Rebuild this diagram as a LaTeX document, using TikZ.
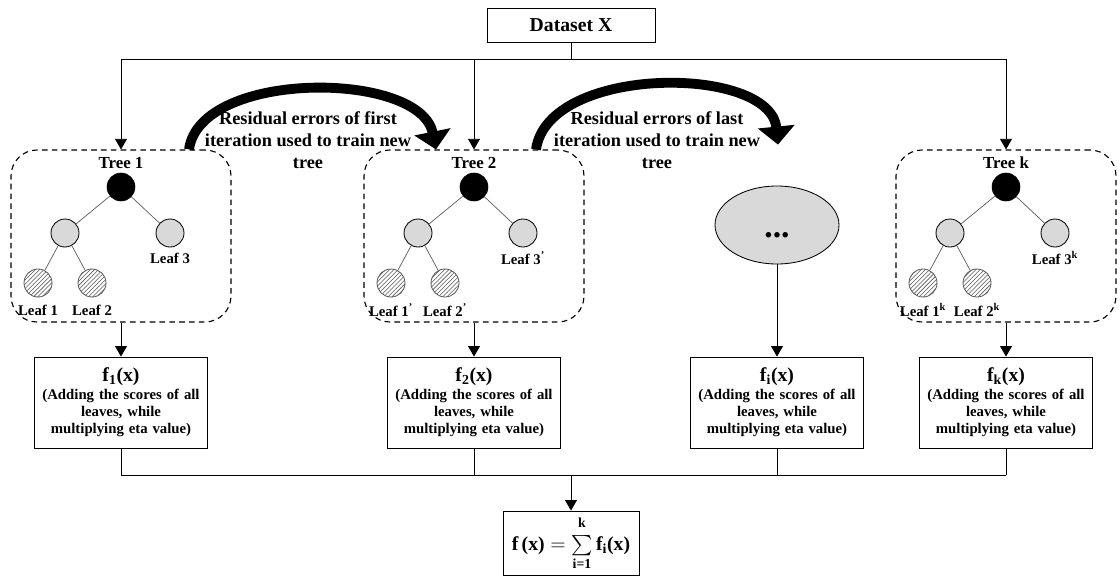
\documentclass[tikz,border=0pt]{standalone}
\usepackage{fontspec}
\setmainfont{Liberation Serif}
\usepackage{amsmath}
\usetikzlibrary{shapes.geometric,arrows.meta,positioning,patterns}

\definecolor{nodegray}{RGB}{217,217,217}
\definecolor{edgegray}{RGB}{90,90,90}

\tikzstyle{datasetbox} = [rectangle, minimum width=4.2cm, minimum height=0.85cm, text centered, draw=black, line width=0.6pt, font=\fontsize{14}{16}\selectfont\bfseries]
\tikzstyle{treebox} = [rectangle, rounded corners=0.65cm, minimum width=5.5cm, minimum height=4.3cm, draw=black, line width=0.8pt, dash pattern=on 4pt off 3pt]
\tikzstyle{rootnode} = [circle, minimum size=0.7cm, inner sep=0pt, draw=black, fill=black]
\tikzstyle{midnode} = [circle, minimum size=0.7cm, inner sep=0pt, draw=black, line width=0.6pt, fill=nodegray]
\tikzstyle{leafnode} = [circle, minimum size=0.7cm, inner sep=0pt, draw=edgegray, line width=0.6pt, pattern=north east lines, pattern color=edgegray]
\tikzstyle{treename} = [font=\fontsize{12}{14}\selectfont\bfseries]
\tikzstyle{leafname} = [inner sep=0pt, font=\fontsize{10.5}{12}\selectfont\bfseries]
\tikzstyle{fbox} = [rectangle, minimum width=4.3cm, minimum height=2.275cm, text width=4.25cm, inner xsep=1pt, align=center, draw=black, line width=0.6pt, font=\fontsize{10.5}{12.3}\selectfont\bfseries]
\tikzstyle{dotsnode} = [ellipse, minimum width=3.1cm, minimum height=1.95cm, draw=black, line width=0.6pt, fill=nodegray]
\tikzstyle{sumbox} = [rectangle, minimum width=3.4cm, minimum height=1.55cm, draw=black, line width=0.6pt, font=\fontsize{14}{16}\selectfont\bfseries]
\tikzstyle{residual} = [align=center, font=\fontsize{13}{15.6}\selectfont\bfseries]
\tikzstyle{edge} = [draw=edgegray, line width=0.5pt]
\tikzstyle{line} = [line width=0.6pt]
\tikzstyle{arrow} = [line width=0.6pt, -{Triangle[length=7.5pt,width=8.5pt]}]
\tikzstyle{bigarrow} = [line width=7pt, -{Triangle[length=0.45cm,width=0.9cm]}]

\begin{document}
\begin{tikzpicture}[node distance=1.15cm]
\useasboundingbox (0,0) rectangle (28,-14.375);

\node (data)[datasetbox] at (14.275,-0.625) {Dataset X};
\coordinate (top) at (14.275,-1.475);

% tree 1
\node (tree1)[treebox] at (3.025,-5.9) {};
\node (t1root)[rootnode, above of=tree1, yshift=0.075cm] {};
\node (t1name)[treename, above of=t1root, yshift=-0.55cm] {Tree 1};
\node (t1l)[midnode, below of=t1root, xshift=-1.4cm] {};
\node (t1r)[midnode, below of=t1root, xshift=1.225cm] {};
\node (t1leafa)[leafnode, below of=t1l, xshift=-0.675cm, yshift=-0.1cm] {};
\node (t1leafb)[leafnode, below of=t1l, xshift=0.675cm, yshift=-0.1cm] {};
\node (t1laba)[leafname, below of=t1leafa, yshift=0.475cm] {Leaf 1};
\node (t1labb)[leafname, below of=t1leafb, yshift=0.475cm] {Leaf 2};
\node (t1labc)[leafname, below of=t1r, yshift=0.525cm] {Leaf 3};
\draw [edge](t1root) -- (t1l);
\draw [edge](t1root) -- (t1r);
\draw [edge](t1l) -- (t1leafa);
\draw [edge](t1l) -- (t1leafb);

% tree 2
\node (tree2)[treebox] at (11.85,-5.9) {};
\node (t2root)[rootnode, above of=tree2, yshift=0.075cm] {};
\node (t2name)[treename, above of=t2root, yshift=-0.55cm] {Tree 2};
\node (t2l)[midnode, below of=t2root, xshift=-1.4cm] {};
\node (t2r)[midnode, below of=t2root, xshift=1.225cm] {};
\node (t2leafa)[leafnode, below of=t2l, xshift=-0.675cm, yshift=-0.1cm] {};
\node (t2leafb)[leafnode, below of=t2l, xshift=0.675cm, yshift=-0.1cm] {};
\node (t2laba)[leafname, below of=t2leafa, yshift=0.475cm] {Leaf 1\textsuperscript{'}};
\node (t2labb)[leafname, below of=t2leafb, yshift=0.475cm] {Leaf 2\textsuperscript{'}};
\node (t2labc)[leafname, below of=t2r, yshift=0.525cm] {Leaf 3\textsuperscript{'}};
\draw [edge](t2root) -- (t2l);
\draw [edge](t2root) -- (t2r);
\draw [edge](t2l) -- (t2leafa);
\draw [edge](t2l) -- (t2leafb);

% the trees in between
\node (dots)[dotsnode] at (19.425,-5.625) {\rule{0pt}{0.65cm}\fontsize{24}{24}\selectfont\bfseries...};

% tree k
\node (treek)[treebox] at (25.15,-5.9) {};
\node (tkroot)[rootnode, above of=treek, yshift=0.075cm] {};
\node (tkname)[treename, above of=tkroot, yshift=-0.55cm] {Tree k};
\node (tkl)[midnode, below of=tkroot, xshift=-1.4cm] {};
\node (tkr)[midnode, below of=tkroot, xshift=1.225cm] {};
\node (tkleafa)[leafnode, below of=tkl, xshift=-0.675cm, yshift=-0.1cm] {};
\node (tkleafb)[leafnode, below of=tkl, xshift=0.675cm, yshift=-0.1cm] {};
\node (tklaba)[leafname, below of=tkleafa, yshift=0.475cm] {Leaf 1\textsuperscript{k}};
\node (tklabb)[leafname, below of=tkleafb, yshift=0.475cm] {Leaf 2\textsuperscript{k}};
\node (tklabc)[leafname, below of=tkr, yshift=0.525cm] {Leaf 3\textsuperscript{k}};
\draw [edge](tkroot) -- (tkl);
\draw [edge](tkroot) -- (tkr);
\draw [edge](tkl) -- (tkleafa);
\draw [edge](tkl) -- (tkleafb);

% dataset feeds every tree
\draw [line](data) -- (top);
\draw [line](tree1 |- top) -- (treek |- top);
\draw [arrow](tree1 |- top) -- (tree1);
\draw [arrow](tree2 |- top) -- (tree2);
\draw [arrow](treek |- top) -- (treek);

% residual errors
\draw [bigarrow]([xshift=1.7cm]tree1.north) .. controls +(0.275,2) and +(-0.4,1.975) .. ([xshift=-0.95cm]tree2.north);
\node (res1)[residual] at (7.7,-3.5) {Residual errors of first\\iteration used to train new\\tree};
\draw [bigarrow]([xshift=1.55cm]tree2.north) .. controls +(0.3,2.125) and +(-0.2,2) .. ([xshift=0.025cm, yshift=1.025cm]dots.north);
\node (res2)[residual] at (16.425,-3.5) {Residual errors of last\\iteration used to train new\\tree};

% scores
\node (f1)[fbox, below of=tree1, yshift=-3.0125cm] {{\fontsize{14}{16}\selectfont f\textsubscript{1}(x)}\\(Adding the scores of all\\leaves, while\\multiplying eta value)};
\node (f2)[fbox, below of=tree2, yshift=-3.0125cm] {{\fontsize{14}{16}\selectfont f\textsubscript{2}(x)}\\(Adding the scores of all\\leaves, while\\multiplying eta value)};
\node (fi)[fbox, below of=dots, yshift=-3.2875cm] {{\fontsize{14}{16}\selectfont f\textsubscript{i}(x)}\\(Adding the scores of all\\leaves, while\\multiplying eta value)};
\node (fk)[fbox, below of=treek, yshift=-3.0125cm] {{\fontsize{14}{16}\selectfont f\textsubscript{k}(x)}\\(Adding the scores of all\\leaves, while\\multiplying eta value)};
\draw [arrow](tree1) -- (f1);
\draw [arrow](tree2) -- (f2);
\draw [arrow](dots) -- (fi);
\draw [arrow](treek) -- (fk);

% sum of all trees
\coordinate (bot) at (14.275,-11.875);
\node (final)[sumbox] at (14.275,-13.575) {$\textbf{f\,(x)} = \sum\limits_{\textbf{i=1}\rule{0pt}{6pt}}^{\textbf{k}\rule[-4pt]{0pt}{0pt}} \textbf{f}_{\textbf{i}}\textbf{(x)}$};
\draw [line](f1) -- (f1 |- bot) -- (fk |- bot);
\draw [line](f2) -- (f2 |- bot);
\draw [line](fi) -- (fi |- bot);
\draw [line](fk) -- (fk |- bot);
\draw [arrow](bot) -- (final);
\end{tikzpicture}
\end{document}
